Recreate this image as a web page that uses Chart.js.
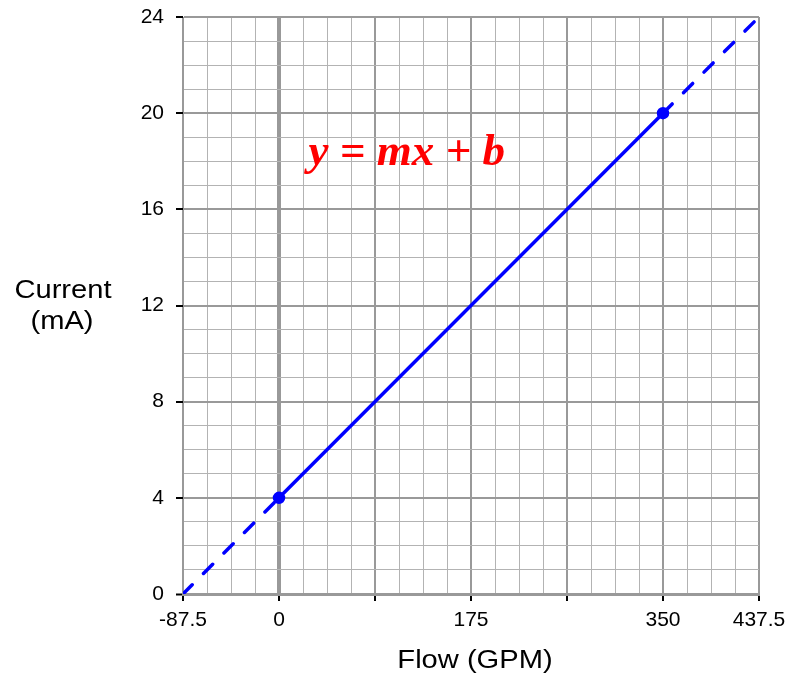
<!DOCTYPE html>
<html>
<head>
<meta charset="utf-8">
<script src="https://cdn.jsdelivr.net/npm/chart.js@4/dist/chart.umd.min.js"></script>
<style>
  html, body { margin: 0; padding: 0; background: #fff; }
  #wrap { width: 792px; height: 677px; }
</style>
</head>
<body>
<div id="wrap"><canvas id="chart" width="792" height="677"></canvas></div>
<script>
// line endpoints and the two calibration points (4 mA @ 0 GPM, 20 mA @ 350 GPM)
const flowGpm = [-87.5, 0, 350, 437.5];
const currentMa = [0, 4, 20, 24];
const xLabeled = [-87.5, 0, 175, 350, 437.5];
const yLabeled = [0, 4, 8, 12, 16, 20, 24];
const xStep = 21.875;
const yStep = 1;

const points = flowGpm.map((x, i) => ({ x: x, y: currentMa[i] }));

function isMult(v, step) {
  const r = Math.abs(v / step - Math.round(v / step));
  return r < 1e-6;
}

// text drawn a little wider than normal, like the original export
function wideText(ctx, txt, cx, cy, sx) {
  ctx.save();
  ctx.translate(cx, cy);
  ctx.scale(sx, 1);
  ctx.fillText(txt, 0, 0);
  ctx.restore();
}

const labelsPlugin = {
  id: 'labels',
  afterDraw(chart) {
    const ctx = chart.ctx;
    const xs = chart.scales.x, ys = chart.scales.y;
    ctx.save();
    ctx.fillStyle = '#000';
    ctx.font = '26px "Liberation Sans", Arial, sans-serif';
    ctx.textAlign = 'center';
    ctx.textBaseline = 'middle';
    wideText(ctx, 'Flow (GPM)', 475, 661, 1.12);
    wideText(ctx, 'Current', 63, 291, 1.12);
    wideText(ctx, '(mA)', 62, 322, 1.12);

    // equation, anchored in data space
    ctx.fillStyle = '#ff0000';
    ctx.font = 'italic bold 45px "Liberation Serif", "Times New Roman", serif';
    ctx.textAlign = 'left';
    ctx.textBaseline = 'alphabetic';
    ctx.fillText('y = mx + b', xs.getPixelForValue(27), ys.getPixelForValue(17.85));
    ctx.restore();
  }
};

new Chart(document.getElementById('chart'), {
  type: 'scatter',
  data: {
    datasets: [{
      data: points,
      showLine: true,
      borderColor: '#0000ff',
      backgroundColor: '#0000ff',
      borderWidth: 3.5,
      borderCapStyle: 'round',
      pointRadius: ctx => (ctx.dataIndex === 1 || ctx.dataIndex === 2) ? 4.5 : 0,
      pointHoverRadius: 0,
      segment: {
        borderDash: ctx => (ctx.p0.parsed.x < 0 || ctx.p1.parsed.x > 350) ? [13, 16] : undefined
      }
    }]
  },
  options: {
    responsive: false,
    animation: false,
    layout: { padding: { left: 0, right: 33, top: 17, bottom: 0 } },
    plugins: {
      legend: { display: false },
      tooltip: { enabled: false }
    },
    scales: {
      x: {
        type: 'linear',
        min: -87.5,
        max: 437.5,
        afterBuildTicks: scale => {
          const t = [];
          for (let i = 0; i <= 24; i++) t.push({ value: -87.5 + i * xStep });
          scale.ticks = t;
        },
        afterFit: scale => {
          scale.height = 83;
          scale.paddingLeft = 0;
          scale.paddingRight = 0;
        },
        ticks: {
          autoSkip: false,
          maxRotation: 0,
          padding: 7,
          color: '#000',
          font: { family: '"Liberation Sans", Arial, sans-serif', size: 21 },
          callback: v => xLabeled.some(l => Math.abs(l - v) < 1e-6) ? String(v) : ''
        },
        grid: {
          color: ctx => (ctx.tick && isMult(ctx.tick.value, 87.5)) ? '#999' : '#b3b3b3',
          lineWidth: ctx => {
            if (!ctx.tick) return 1;
            if (Math.abs(ctx.tick.value) < 1e-6) return 4;
            return isMult(ctx.tick.value, 87.5) ? 2 : 1;
          },
          tickLength: 7,
          tickWidth: 2,
          tickColor: ctx => (ctx.tick && isMult(ctx.tick.value, 87.5)) ? '#000' : 'rgba(0,0,0,0)'
        },
        border: { color: '#999', width: 3 }
      },
      y: {
        type: 'linear',
        min: 0,
        max: 24,
        afterBuildTicks: scale => {
          const t = [];
          for (let v = 0; v <= 24; v += yStep) t.push({ value: v });
          scale.ticks = t;
        },
        afterFit: scale => {
          scale.width = 183;
          scale.paddingTop = 0;
          scale.paddingBottom = 0;
        },
        ticks: {
          autoSkip: false,
          padding: 12,
          color: '#000',
          font: { family: '"Liberation Sans", Arial, sans-serif', size: 21 },
          callback: v => yLabeled.includes(v) ? String(v) : ''
        },
        grid: {
          color: ctx => (ctx.tick && ctx.tick.value % 4 === 0) ? '#999' : '#b3b3b3',
          lineWidth: ctx => (ctx.tick && ctx.tick.value % 4 === 0 && ctx.tick.value !== 0) ? 2 : 1,
          tickLength: 7,
          tickWidth: 2,
          tickColor: ctx => (ctx.tick && ctx.tick.value % 4 === 0) ? '#000' : 'rgba(0,0,0,0)'
        },
        border: { color: '#999', width: 1 }
      }
    }
  },
  plugins: [labelsPlugin]
});
</script>
</body>
</html>
